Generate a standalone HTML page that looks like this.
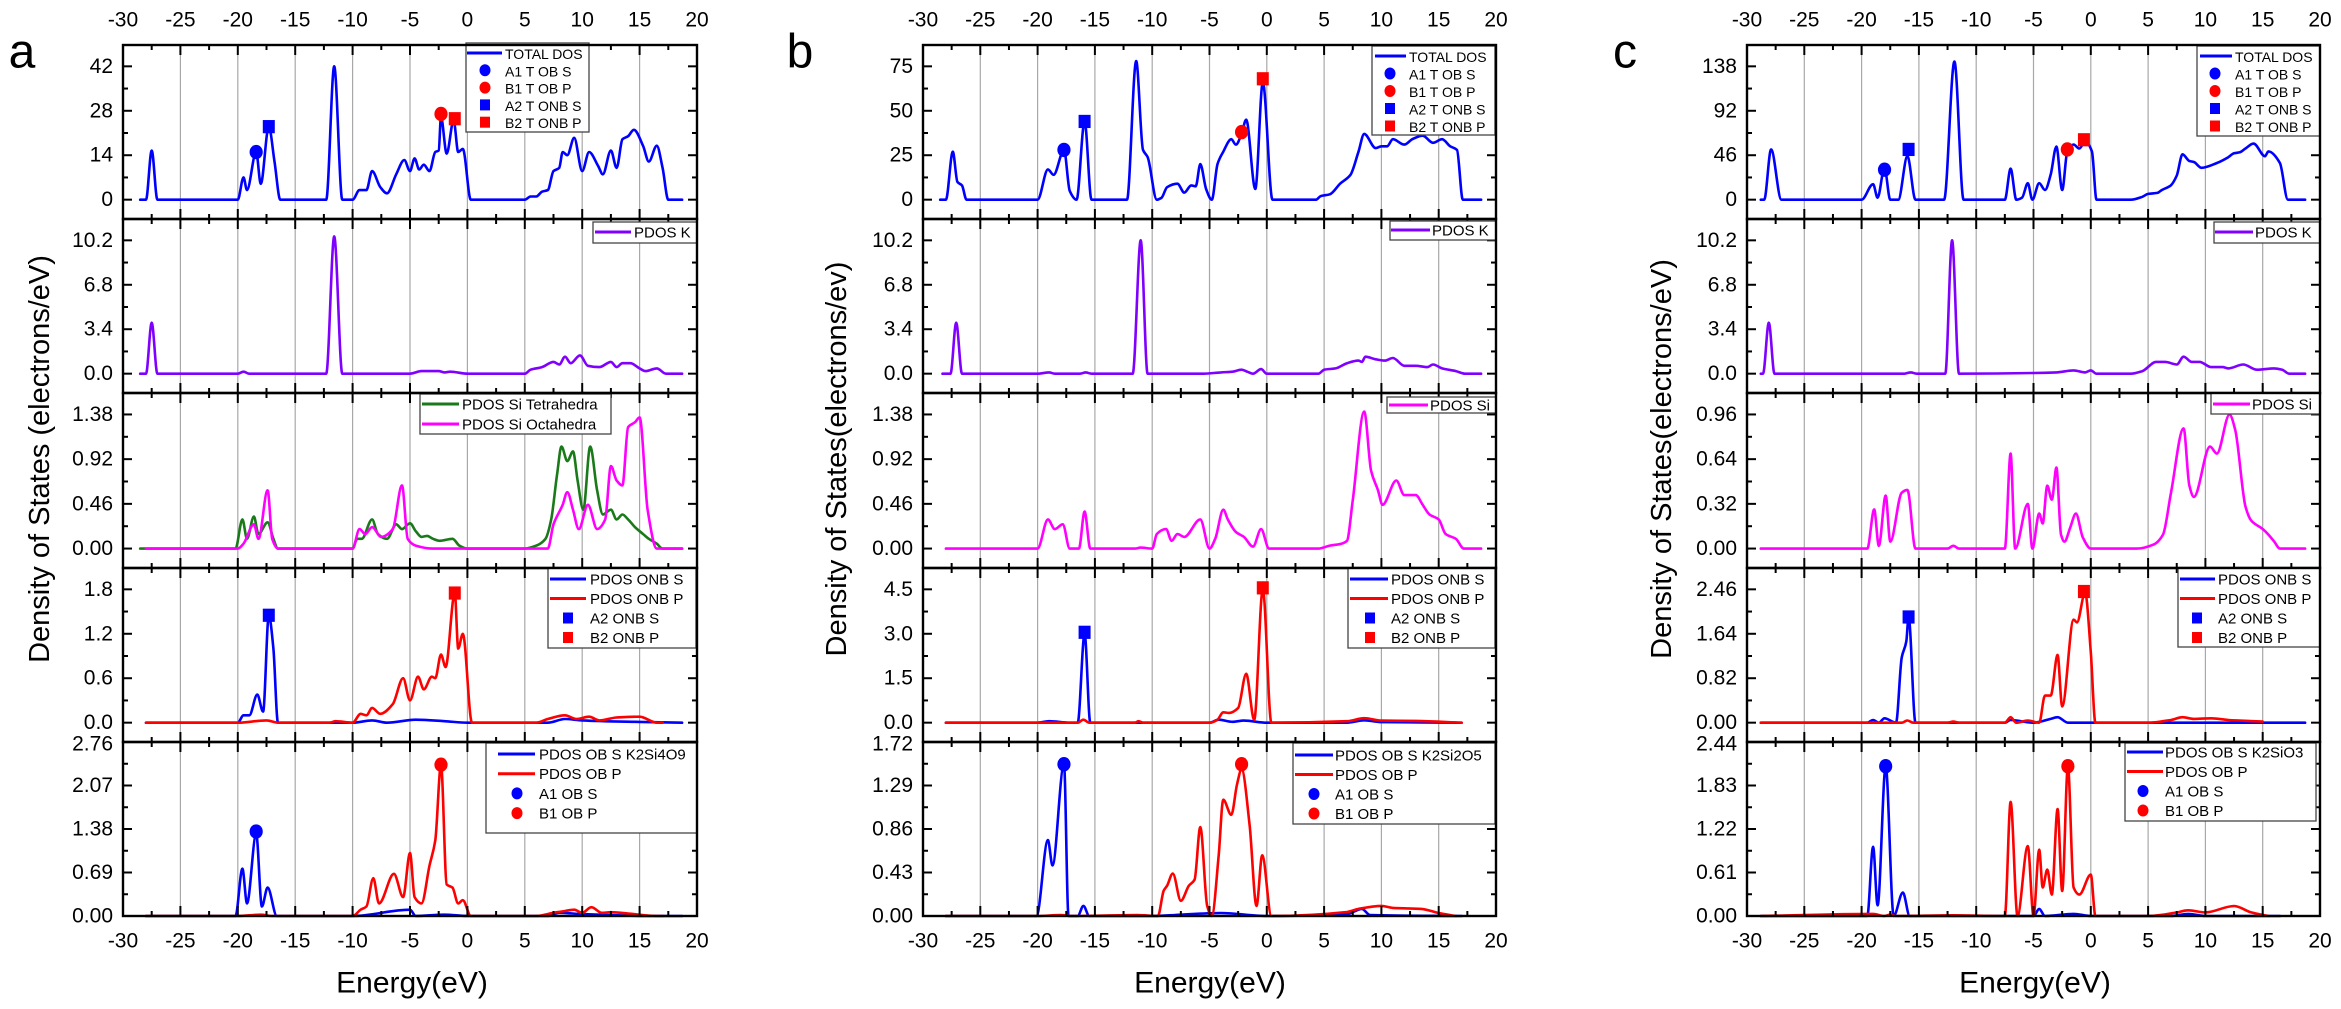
<!DOCTYPE html>
<html><head><meta charset="utf-8"><title>DOS K2Si4O9 / K2Si2O5 / K2SiO3</title>
<style>html,body{margin:0;padding:0;background:#fff}svg{display:block;font-family:"Liberation Sans",Arial,sans-serif}</style>
</head><body>
<svg id="fig" width="2341" height="1009" viewBox="0 0 2341 1009" xmlns="http://www.w3.org/2000/svg"></svg>
<script>
// ---------- DATA (energy eV, DOS value) ----------
const aTotal=[[-28.5,0],[-28,0],[-27.5,15.5],[-27,0],[-20,0],[-19.5,7],[-19.2,3],[-18.4,15],[-18,5],[-17.3,23],[-16.8,12],[-16.3,0],[-12.3,0],[-11.6,42],[-10.9,0],[-10,0],[-9.4,3],[-8.8,3],[-8.3,9],[-7.6,4],[-7,2],[-6.2,8],[-5.5,12.5],[-5,9],[-4.6,13],[-4.2,9.5],[-3.8,11],[-3.3,9],[-2.8,15],[-2.5,15.5],[-2.3,26],[-1.8,14.5],[-1.2,25],[-0.8,15],[-0.4,16],[0.3,0],[5,0],[5.5,1],[6,1],[6.5,2.5],[7,3],[7.5,9],[8,10],[8.3,15],[8.7,14],[9.3,19.5],[10,9],[10.6,15],[11.4,10.5],[11.8,8],[12.5,15.5],[13,10],[13.5,19],[14,20],[14.5,22],[15.3,17],[15.8,12],[16.5,17],[17,10],[17.5,0],[18.7,0]];
const aK=[[-28.5,0],[-28,0],[-27.5,3.9],[-27,0],[-20,0],[-19.5,0.15],[-19,0],[-12.3,0],[-11.6,10.5],[-10.9,0],[-5,0],[-4,0.2],[-2.5,0.2],[-2,0.1],[-1.5,0.15],[0,0],[5,0],[5.5,0.3],[6.5,0.5],[7.5,0.9],[8,0.7],[8.5,1.3],[9,0.8],[9.8,1.4],[10.5,0.6],[11.5,0.5],[12.5,0.9],[13,0.5],[13.5,0.8],[14.2,0.8],[15,0.4],[15.5,0.2],[16.5,0.4],[17.3,0],[18.7,0]];
const aSiTet=[[-28.5,0],[-20.2,0],[-19.6,0.3],[-19.2,0.1],[-18.6,0.33],[-18.2,0.15],[-17.4,0.27],[-16.9,0.1],[-16.5,0],[-10,0],[-9.6,0.1],[-9.2,0.1],[-8.3,0.3],[-7.8,0.15],[-7,0.1],[-6.2,0.25],[-5.7,0.2],[-5,0.26],[-4.5,0.18],[-4,0.12],[-3.5,0.13],[-3,0.1],[-2.4,0.08],[-1.3,0.1],[-0.7,0.03],[0,0],[5,0],[6,0.03],[6.8,0.1],[7.3,0.3],[7.8,0.75],[8.2,1.05],[8.7,0.9],[9.2,1.0],[9.6,0.7],[10.1,0.4],[10.7,1.05],[11.3,0.6],[11.8,0.35],[12.5,0.4],[13,0.3],[13.5,0.35],[14,0.3],[14.6,0.22],[15.3,0.15],[15.8,0.1],[16.5,0.05],[17,0],[18.7,0]];
const aSiOct=[[-28,0],[-20,0],[-19.5,0.05],[-18.6,0.25],[-18.2,0.1],[-17.4,0.6],[-17,0.1],[-16.5,0],[-10,0],[-9.4,0.2],[-8.9,0.15],[-8.3,0.22],[-7.5,0.12],[-6.5,0.2],[-5.7,0.65],[-5.2,0.1],[-4.5,0.03],[-3,0],[5,0],[7,0],[7.5,0.25],[8.3,0.45],[8.7,0.58],[9.2,0.4],[9.7,0.2],[10.5,0.45],[11.3,0.2],[12,0.3],[12.5,0.85],[13,0.7],[13.5,0.65],[14,1.25],[14.6,1.3],[15,1.35],[15.7,0.4],[16.5,0],[18.7,0]];
const aOnbS=[[-28,0],[-20,0],[-19.5,0.1],[-19,0.1],[-18.3,0.38],[-17.8,0.15],[-17.3,1.45],[-16.9,1.0],[-16.5,0],[-10,0],[-8.3,0.03],[-7,0],[-4.5,0.04],[-2,0.02],[0,0],[7,0],[8.5,0.05],[10,0.03],[15,0.01],[18.7,0]];
const aOnbP=[[-28,0],[-20,0],[-17.5,0.03],[-16.5,0],[-12,0],[-11.5,0.02],[-10,0],[-9.3,0.12],[-8.8,0.1],[-8.3,0.2],[-7.6,0.12],[-6.5,0.25],[-5.6,0.6],[-5,0.3],[-4.3,0.62],[-3.8,0.45],[-3.1,0.62],[-2.8,0.6],[-2.3,0.92],[-1.9,0.75],[-1.1,1.75],[-0.8,1.0],[-0.4,1.2],[0.4,0],[6,0],[7,0.05],[8.5,0.1],[9.5,0.05],[10.6,0.08],[11.5,0.03],[13,0.07],[15,0.08],[16.5,0],[17,0]];
const aObS=[[-28,0],[-20.2,0],[-19.6,0.75],[-19.2,0.2],[-18.4,1.3],[-17.9,0.15],[-17.4,0.45],[-16.6,0],[-10,0],[-5,0.1],[-4.5,0],[-2,0.02],[0,0],[7,0],[8,0.05],[10,0.03],[16,0],[18.7,0]];
const aObP=[[-28,0],[-20,0],[-18,0.02],[-17,0],[-10,0],[-9.3,0.1],[-8.8,0.15],[-8.2,0.6],[-7.7,0.2],[-6.4,0.67],[-5.6,0.3],[-5,1.0],[-4.6,0.3],[-4,0.2],[-3.3,0.8],[-2.8,1.2],[-2.3,2.4],[-1.8,0.5],[-1.3,0.45],[-0.8,0.2],[-0.4,0.25],[0.3,0],[6,0],[7.5,0.05],[8.5,0.08],[9.3,0.1],[10,0.05],[10.8,0.14],[11.7,0.05],[12.5,0.06],[14,0.04],[16.5,0],[17,0]];

const bTotal=[[-28.5,0],[-28,0],[-27.4,27],[-27,10],[-26.6,8],[-26.2,0],[-20,0],[-19.1,17],[-18.6,14],[-17.7,28],[-17.2,5],[-16.6,0],[-15.9,44],[-15.3,0],[-12.2,0],[-11.4,78],[-10.8,28],[-10.4,24],[-9.6,0],[-9.2,1],[-8.7,7],[-7.8,9],[-7.2,4],[-6.6,8],[-6.2,7.5],[-5.8,20],[-5.3,6],[-4.8,0],[-4.3,20],[-3.8,27],[-3.1,34],[-2.7,31],[-2.2,37],[-1.8,45],[-1.0,6],[-0.35,66],[0.5,0],[4.3,0],[4.7,2],[5.5,3],[6.4,9],[7.3,14],[8,27],[8.5,37],[9.5,29],[10,30],[10.5,30],[11,34],[12,31],[12.7,34],[13.6,36],[14.5,32],[15.3,34],[16,30],[16.6,28],[17.1,0],[18.7,0]];
const bK=[[-28.3,0],[-27.6,0],[-27.1,3.9],[-26.6,0],[-20,0],[-19,0.1],[-18.5,0],[-16.3,0],[-15.8,0.1],[-15.3,0],[-11.7,0],[-11.0,10.2],[-10.4,0],[-5.5,0],[-4,0.1],[-3,0.15],[-2.2,0.3],[-1.7,0.15],[-1.2,0],[-0.5,0.35],[0,0],[4.5,0],[5,0.3],[6,0.4],[7,0.8],[8,1.0],[8.3,0.9],[8.6,1.3],[9.5,1.1],[10.3,1.0],[11,1.2],[12,0.6],[13,0.6],[14,0.5],[14.5,0.7],[15.3,0.4],[16.5,0.2],[17.3,0],[18.7,0]];
const bSi=[[-28,0],[-20,0],[-19.1,0.3],[-18.5,0.2],[-17.8,0.25],[-17.2,0],[-16.4,0],[-15.9,0.38],[-15.4,0],[-11.5,0],[-11,0.01],[-10,0],[-9.6,0.15],[-8.8,0.2],[-8.3,0.08],[-7.8,0.15],[-7.2,0.12],[-5.8,0.3],[-5,0],[-4.5,0.1],[-3.8,0.4],[-3.4,0.3],[-2.7,0.17],[-2,0.12],[-1.2,0.02],[-0.5,0.2],[0.2,0],[4.5,0],[5.5,0.03],[6.5,0.05],[7,0.08],[7.5,0.5],[8.5,1.41],[9.1,0.8],[9.7,0.6],[10.1,0.45],[11.3,0.7],[12,0.55],[13,0.55],[13.6,0.45],[14.2,0.35],[15,0.3],[15.6,0.15],[16.5,0.1],[17.2,0],[18.7,0]];
const bOnbS=[[-28,0],[-20,0],[-19,0.05],[-17.2,0],[-16.5,0],[-15.9,3.0],[-15.4,0],[-5,0],[-4.2,0.1],[-3,0.03],[-2,0.07],[0,0],[7,0],[8.5,0.08],[10,0.02],[17,0]];
const bOnbP=[[-28,0],[-16.5,0],[-16,0.1],[-15.5,0],[-11.5,0],[-11.2,0.05],[-10.8,0],[-5,0],[-4.3,0.1],[-3.8,0.35],[-3.3,0.33],[-2.5,0.5],[-1.8,1.65],[-1.1,0.1],[-0.35,4.5],[0.4,0],[7,0.05],[8.5,0.15],[10,0.07],[13,0.06],[17,0]];
const bObS=[[-28,0],[-20.1,0],[-19.1,0.75],[-18.7,0.5],[-17.7,1.5],[-17.3,0],[-16.5,0],[-16,0.1],[-15.5,0],[-10,0],[-8,0.01],[-4,0.03],[0,0],[7,0.02],[8.3,0.07],[9,0.01],[17,0]];
const bObP=[[-28,0],[-20,0],[-18,0.01],[-17,0],[-11.3,0.01],[-9.5,0],[-9,0.25],[-8.7,0.3],[-8.2,0.42],[-7.5,0.15],[-6.8,0.3],[-6.3,0.36],[-5.8,0.88],[-5.2,0.1],[-4.8,0],[-4.2,0.6],[-3.8,1.15],[-3.1,1.0],[-2.6,1.3],[-2.2,1.45],[-1.5,0.9],[-0.9,0.1],[-0.4,0.6],[0.4,0],[7,0.04],[8,0.07],[10,0.1],[11,0.08],[13.5,0.07],[15,0.03],[16.5,0]];

const cTotal=[[-28.8,0],[-28.5,0],[-27.9,52],[-27,0],[-20,0],[-19,16],[-18.6,2],[-18,33],[-17.5,0],[-16.8,0],[-16,45],[-15.3,0],[-12.8,0],[-11.9,143],[-11.1,0],[-7.5,0],[-7,32],[-6.5,0],[-6,2],[-5.5,17],[-5.1,0],[-4.5,17],[-4,10],[-3.5,26],[-3.0,55],[-2.5,10],[-2.05,50],[-1.5,57],[-1.0,53],[-0.5,60],[0.1,50],[0.5,0],[3.5,0],[4.5,3],[5,6],[5.8,7],[6.2,10],[7,15],[7.5,25],[8.0,47],[8.6,40],[9.0,39],[9.65,33],[11,38],[12,44],[12.5,48],[13,49],[13.5,53],[14.2,58],[15.2,45],[15.5,50],[16.5,38],[17.2,0],[18.7,0]];
const cK=[[-28.8,0],[-28.6,0],[-28.1,3.9],[-27.6,0],[-16.3,0],[-15.7,0.1],[-15.2,0],[-12.7,0],[-12.1,10.2],[-11.5,0],[-5,0.05],[-3,0.1],[-1.5,0.25],[-0.5,0.1],[0,0.25],[0.5,0],[3.5,0],[4.5,0.2],[5.7,0.9],[6.5,0.9],[7.5,0.7],[8.1,1.3],[8.8,0.9],[9.5,0.9],[10.5,0.5],[11.5,0.5],[12,0.4],[13.3,0.7],[14.5,0.3],[16,0.4],[16.7,0.3],[17.3,0],[18.7,0]];
const cSi=[[-28.8,0],[-19.5,0],[-18.9,0.28],[-18.5,0.02],[-17.9,0.38],[-17.5,0.05],[-16.5,0.4],[-16.0,0.42],[-15.3,0],[-12.5,0],[-12,0.02],[-11.5,0],[-7.5,0],[-7.0,0.68],[-6.6,0],[-5.5,0.32],[-5.1,0],[-4.5,0.25],[-4.2,0.18],[-3.8,0.45],[-3.4,0.35],[-3.0,0.58],[-2.6,0.1],[-2.3,0.05],[-1.8,0.15],[-1.3,0.25],[-0.7,0.08],[0,0],[4,0],[5.5,0.03],[6.3,0.1],[7,0.4],[8.1,0.86],[8.6,0.45],[9,0.37],[10.4,0.73],[11,0.68],[12.1,0.96],[12.6,0.85],[13.5,0.3],[14,0.2],[15,0.14],[15.5,0.1],[16,0.05],[16.5,0],[18.7,0]];
const cOnbS=[[-28.8,0],[-19.5,0],[-19,0.05],[-18.5,0],[-18,0.08],[-17,0],[-16.5,1.2],[-16.1,1.5],[-15.9,1.95],[-15.3,0],[-7.5,0],[-7,0.05],[-5,0],[-3.5,0.07],[-2.9,0.1],[-2,0],[18.7,0]];
const cOnbP=[[-28.8,0],[-16.5,0],[-16,0.04],[-15.5,0],[-12.5,0],[-12,0.02],[-11.5,0],[-7.5,0],[-7,0.1],[-6.5,0],[-5.5,0.04],[-4.5,0],[-4,0.5],[-3.5,0.5],[-2.9,1.25],[-2.5,0.3],[-1.5,1.9],[-1.2,1.85],[-0.5,2.4],[0,1.3],[0.4,0],[5,0],[7,0.05],[8,0.1],[9,0.07],[10.5,0.08],[12,0.05],[15,0.02]];
const cObS=[[-28.8,0],[-19.5,0],[-19.0,0.97],[-18.6,0.15],[-17.9,2.1],[-17.2,0],[-16.4,0.33],[-15.8,0],[-5,0],[-4.5,0.1],[-4,0],[-1.5,0.03],[0,0],[7,0],[8.5,0.03],[10,0],[16.5,0]];
const cObP=[[-28.8,0],[-19,0.03],[-18,0],[-17.5,0.02],[-17,0],[-12,0.01],[-7.5,0],[-7.0,1.6],[-6.4,0],[-5.5,0.98],[-5,0],[-4.5,0.93],[-4.2,0.4],[-3.8,0.65],[-3.4,0.3],[-2.9,1.5],[-2.5,0.35],[-2.0,2.1],[-1.5,0.4],[-1,0.3],[0,0.58],[0.4,0],[5,0],[7.5,0.05],[8.5,0.08],[10,0.05],[12.5,0.14],[14,0.05],[15.5,0]];

// marker points [energy, value]
const aMarkTop=[[-18.4,15],[-2.3,27],[-17.3,23],[-1.1,25.5]];
const aMarkOnb=[[-17.3,1.45],[-1.1,1.75]];
const aMarkOb=[[-18.4,1.34],[-2.3,2.4]];
const bMarkTop=[[-17.7,28],[-2.2,38],[-15.9,44],[-0.35,68]];
const bMarkOnb=[[-15.9,3.05],[-0.35,4.55]];
const bMarkOb=[[-17.7,1.5],[-2.2,1.5]];
const cMarkTop=[[-18,31],[-2.05,52],[-15.9,52],[-0.6,62]];
const cMarkOnb=[[-15.9,1.95],[-0.6,2.42]];
const cMarkOb=[[-17.9,2.1],[-2.0,2.1]];

// tick label arrays
const xTicks=[-30,-25,-20,-15,-10,-5,0,5,10,15,20];
const aYTicks=[[0,14,28,42],[0,3.4,6.8,10.2],[0,0.46,0.92,1.38],[0,0.6,1.2,1.8],[0,0.69,1.38,2.07,2.76]];
const bYTicks=[[0,25,50,75],[0,3.4,6.8,10.2],[0,0.46,0.92,1.38],[0,1.5,3.0,4.5],[0,0.43,0.86,1.29,1.72]];
const cYTicks=[[0,46,92,138],[0,3.4,6.8,10.2],[0,0.32,0.64,0.96],[0,0.82,1.64,2.46],[0,0.61,1.22,1.83,2.44]];
const decA=[0,1,2,1,2], decB=[0,1,2,1,2], decC=[0,1,2,2,2];

// ---------- RENDER ----------
const NS='http://www.w3.org/2000/svg';
const svg=document.getElementById('fig');
function mk(tag,attrs,parent){const e=document.createElementNS(NS,tag);for(const k in attrs)e.setAttribute(k,attrs[k]);(parent||svg).appendChild(e);return e;}
const BLUE='#0000ff',RED='#ff0000',PUR='#8000ff',MAG='#ff00ff',GRN='#1a7a1a';
const ROWS=[[45,219],[219,393],[393,568],[568,742],[742,916]];

const panels=[
 {id:'a',x0:123,x1:697,letterX:22,ylab:'Density of States (electrons/eV)',ylabX:40,titleX:412,ticks:aYTicks,dec:decA,
  rows:[
   {series:[[aTotal,BLUE]],marks:[[aMarkTop[0],BLUE,'c'],[aMarkTop[1],RED,'c'],[aMarkTop[2],BLUE,'s'],[aMarkTop[3],RED,'s']],
    leg:{x:466,y:43,w:123,h:89,l1:467,l2:502,mx:485,tx:505,y0:53,dy:17.3,fs:14,items:[['l',BLUE,'TOTAL  DOS'],['c',BLUE,'A1 T OB  S'],['c',RED,'B1 T OB  P'],['s',BLUE,'A2  T ONB S'],['s',RED,'B2 T  ONB P']]}},
   {series:[[aK,PUR]],marks:[],leg:{x:593,y:222,w:104,h:21,l1:595,l2:631,mx:0,tx:634,y0:232,dy:0,fs:15,items:[['l',PUR,'PDOS K']]}},
   {series:[[aSiTet,GRN],[aSiOct,MAG]],marks:[],leg:{x:420,y:394,w:191,h:40,l1:422,l2:459,mx:0,tx:462,y0:404,dy:20,fs:15,items:[['l',GRN,'PDOS Si Tetrahedra'],['l',MAG,'PDOS Si Octahedra']]}},
   {series:[[aOnbS,BLUE],[aOnbP,RED]],marks:[[aMarkOnb[0],BLUE,'s'],[aMarkOnb[1],RED,'s']],
    leg:{x:548,y:568,w:148,h:80,l1:550,l2:586,mx:568,tx:590,y0:579,dy:19.5,fs:15,items:[['l',BLUE,'PDOS  ONB S'],['l',RED,'PDOS  ONB P'],['s',BLUE,'A2 ONB S'],['s',RED,'B2 ONB P']]}},
   {series:[[aObS,BLUE],[aObP,RED]],marks:[[aMarkOb[0],BLUE,'c'],[aMarkOb[1],RED,'c']],
    leg:{x:486,y:743,w:211,h:90,l1:498,l2:535,mx:517,tx:539,y0:754,dy:19.7,fs:15,items:[['l',BLUE,'PDOS OB S K2Si4O9'],['l',RED,'PDOS  OB P'],['c',BLUE,'A1 OB S'],['c',RED,'B1 OB P']]}}
  ]},
 {id:'b',x0:923,x1:1496,letterX:800,ylab:'Density of States(electrons/ev)',ylabX:837,titleX:1210,ticks:bYTicks,dec:decB,
  rows:[
   {series:[[bTotal,BLUE]],marks:[[bMarkTop[0],BLUE,'c'],[bMarkTop[1],RED,'c'],[bMarkTop[2],BLUE,'s'],[bMarkTop[3],RED,'s']],
    leg:{x:1372,y:46,w:123,h:89,l1:1375,l2:1406,mx:1390,tx:1409,y0:56,dy:17.5,fs:14,items:[['l',BLUE,'TOTAL  DOS'],['c',BLUE,'A1 T OB S'],['c',RED,'B1 T OB P'],['s',BLUE,'A2 T ONB S'],['s',RED,'B2 T ONB P']]}},
   {series:[[bK,PUR]],marks:[],leg:{x:1390,y:221,w:106,h:19,l1:1391,l2:1430,mx:0,tx:1432,y0:230,dy:0,fs:15,items:[['l',PUR,'PDOS K']]}},
   {series:[[bSi,MAG]],marks:[],leg:{x:1387,y:397,w:109,h:16,l1:1389,l2:1428,mx:0,tx:1430,y0:405,dy:0,fs:15,items:[['l',MAG,'PDOS Si']]}},
   {series:[[bOnbS,BLUE],[bOnbP,RED]],marks:[[bMarkOnb[0],BLUE,'s'],[bMarkOnb[1],RED,'s']],
    leg:{x:1348,y:568,w:147,h:80,l1:1350,l2:1388,mx:1370,tx:1391,y0:579,dy:19.5,fs:15,items:[['l',BLUE,'PDOS ONB S'],['l',RED,'PDOS ONB P'],['s',BLUE,'A2 ONB S'],['s',RED,'B2 ONB P']]}},
   {series:[[bObS,BLUE],[bObP,RED]],marks:[[bMarkOb[0],BLUE,'c'],[bMarkOb[1],RED,'c']],
    leg:{x:1293,y:743,w:202,h:81,l1:1295,l2:1333,mx:1314,tx:1335,y0:755,dy:19.5,fs:15,items:[['l',BLUE,'PDOS OB S K2Si2O5'],['l',RED,'PDOS OB  P'],['c',BLUE,'A1 OB S'],['c',RED,'B1 OB P']]}}
  ]},
 {id:'c',x0:1747,x1:2320,letterX:1625,ylab:'Density of States(electrons/eV)',ylabX:1662,titleX:2035,ticks:cYTicks,dec:decC,
  rows:[
   {series:[[cTotal,BLUE]],marks:[[cMarkTop[0],BLUE,'c'],[cMarkTop[1],RED,'c'],[cMarkTop[2],BLUE,'s'],[cMarkTop[3],RED,'s']],
    leg:{x:2197,y:46,w:123,h:90,l1:2200,l2:2232,mx:2215,tx:2235,y0:56,dy:17.5,fs:14,items:[['l',BLUE,'TOTAL DOS'],['c',BLUE,'A1 T OB S'],['c',RED,'B1 T OB P'],['s',BLUE,'A2 T ONB S'],['s',RED,'B2 T ONB P']]}},
   {series:[[cK,PUR]],marks:[],leg:{x:2214,y:222,w:106,h:21,l1:2215,l2:2253,mx:0,tx:2255,y0:232,dy:0,fs:15,items:[['l',PUR,'PDOS K']]}},
   {series:[[cSi,MAG]],marks:[],leg:{x:2211,y:393,w:109,h:21,l1:2213,l2:2250,mx:0,tx:2252,y0:404,dy:0,fs:15,items:[['l',MAG,'PDOS Si']]}},
   {series:[[cOnbS,BLUE],[cOnbP,RED]],marks:[[cMarkOnb[0],BLUE,'s'],[cMarkOnb[1],RED,'s']],
    leg:{x:2178,y:568,w:142,h:79,l1:2180,l2:2215,mx:2197,tx:2218,y0:579,dy:19.5,fs:15,items:[['l',BLUE,'PDOS ONB S'],['l',RED,'PDOS ONB P'],['s',BLUE,'A2 ONB S'],['s',RED,'B2 ONB P']]}},
   {series:[[cObS,BLUE],[cObP,RED]],marks:[[cMarkOb[0],BLUE,'c'],[cMarkOb[1],RED,'c']],
    leg:{x:2125,y:743,w:191,h:78,l1:2127,l2:2163,mx:2143,tx:2165,y0:752,dy:19.5,fs:15,items:[['l',BLUE,'PDOS OB S K2SiO3'],['l',RED,'PDOS OB P'],['c',BLUE,'A1 OB S'],['c',RED,'B1 OB P']]}}
  ]}
];

function text(x,y,str,fs,anchor,parent,name){
  const t=mk('text',{x:x,y:y,'font-size':fs,'text-anchor':anchor||'start','dominant-baseline':'central',fill:'#000'},parent);
  t.textContent=str;
  
  
  return t;
}
function marker(g,x,y,type,color,size,name){
  let m;
  if(type==='c'){m=mk('ellipse',{cx:x,cy:y,rx:size*0.55,ry:size*0.6,fill:color},g);}
  else{m=mk('rect',{x:x-size*0.5,y:y-size*0.55,width:size,height:size*1.1,fill:color},g);}
  
  
}
// monotone cubic (Fritsch-Carlson) path through pixel points
function smoothPath(P){
  const n=P.length; if(n<2) return '';
  const dx=[],dy=[],m=[];
  for(let i=0;i<n-1;i++){dx[i]=P[i+1][0]-P[i][0];dy[i]=P[i+1][1]-P[i][1];m[i]=dx[i]?dy[i]/dx[i]:0;}
  const t=[m[0]];
  for(let i=1;i<n-1;i++){ if(m[i-1]*m[i]<=0) t[i]=0; else { const w1=2*dx[i]+dx[i-1],w2=dx[i]+2*dx[i-1]; t[i]=(w1+w2)/(w1/m[i-1]+w2/m[i]); } }
  t[n-1]=m[n-2];
  let d='M'+P[0][0].toFixed(1)+' '+P[0][1].toFixed(1);
  for(let i=0;i<n-1;i++){
    const h=dx[i]/3;
    d+=' C'+(P[i][0]+h).toFixed(1)+' '+(P[i][1]+t[i]*h).toFixed(1)+' '+(P[i+1][0]-h).toFixed(1)+' '+(P[i+1][1]-t[i+1]*h).toFixed(1)+' '+P[i+1][0].toFixed(1)+' '+P[i+1][1].toFixed(1);
  }
  return d;
}

panels.forEach(p=>{
  const pg=mk('g',{});
  
  
  const X=e=>p.x0+(e+30)/50*(p.x1-p.x0);
  text(p.letterX,52,p.id,48,'middle',pg,'panel-letter-'+p.id);
  xTicks.forEach(v=>text(X(v),20,String(v),21,'middle',pg,'top-x-tick-label'));
  xTicks.forEach(v=>text(X(v),941,String(v),21,'middle',pg,'x-tick-label'));
  const yl=text(p.ylabX,459,p.ylab,29,'middle',pg,'y-axis-title');
  yl.setAttribute('transform','rotate(-90 '+p.ylabX+' 459)');
  text(p.titleX,983,'Energy(eV)',30,'middle',pg,'x-axis-title');

  p.rows.forEach((r,ri)=>{
    const [yt,yb]=ROWS[ri];
    const tk=p.ticks[ri];
    const mx=tk[tk.length-1];
    const lo=ri<4?-0.145*mx:0, hi=ri<4?1.16*mx:mx;
    const Y=v=>yb-(v-lo)/(hi-lo)*(yb-yt);
    const g=mk('g',{},pg);
    
    
    for(let v=-25;v<20;v+=5){const l=mk('line',{x1:X(v),x2:X(v),y1:yt,y2:yb,stroke:'#a8a8a8','stroke-width':1.2},g);
      
      }
    r.series.forEach(([data,color])=>{
      const pts=data.map(pt=>[X(pt[0]),Y(pt[1])]);
      const path=mk('path',{d:smoothPath(pts),fill:'none',stroke:color,'stroke-width':2.6,'stroke-linejoin':'round','stroke-linecap':'round'},g);
      
      
    });
    r.marks.forEach(([pt,color,type])=>marker(g,X(pt[0]),Y(pt[1]),type,color,12,'peak-marker'));
    tk.forEach((v,i)=>{
      const yy=Y(v);
      const lab=v.toFixed(p.dec[ri]);
      text(p.x0-10,yy+(ri===4&&i===tk.length-1?2:0),lab,21,'end',g,'y-tick-label');
      mk('line',{x1:p.x0,x2:p.x0+9,y1:yy,y2:yy,stroke:'#000','stroke-width':2},g);
      mk('line',{x1:p.x1,x2:p.x1-9,y1:yy,y2:yy,stroke:'#000','stroke-width':2},g);
      if(i<tk.length-1){const ym=Y((v+tk[i+1])/2);
        mk('line',{x1:p.x0,x2:p.x0+5,y1:ym,y2:ym,stroke:'#000','stroke-width':2},g);
        mk('line',{x1:p.x1,x2:p.x1-5,y1:ym,y2:ym,stroke:'#000','stroke-width':2},g);}
    });
    for(let v=-30;v<=20;v+=2.5){
      const major=(v%5===0), len=major?10:5, xx=X(v);
      mk('line',{x1:xx,x2:xx,y1:yt,y2:yt+len,stroke:'#000','stroke-width':2},g);
      mk('line',{x1:xx,x2:xx,y1:yb,y2:yb-len,stroke:'#000','stroke-width':2},g);
    }
    const L=r.leg;
    const lg=mk('g',{},g);
    
    
    mk('rect',{x:L.x,y:L.y,width:L.w,height:L.h,fill:'#fff',stroke:'#444','stroke-width':1.3},lg);
    L.items.forEach((it,i)=>{
      const yy=L.y0+i*L.dy;
      if(it[0]==='l'){const ln=mk('line',{x1:L.l1,x2:L.l2,y1:yy,y2:yy,stroke:it[1],'stroke-width':3},lg);
        
        }
      else marker(lg,L.mx,yy,it[0],it[1],10,'legend-marker');
      text(L.tx,yy+1,it[2],L.fs,'start',lg,'legend-entry');
    });
    mk('rect',{x:p.x0,y:yt,width:p.x1-p.x0,height:yb-yt,fill:'none',stroke:'#000','stroke-width':2.4},g);
  });
});
</script>
</body></html>
